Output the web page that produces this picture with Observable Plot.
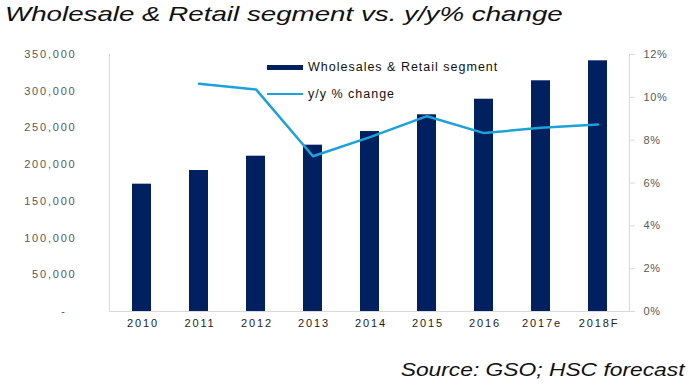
<!DOCTYPE html>
<html>
<head>
<meta charset="utf-8">
<script src="https://cdn.jsdelivr.net/npm/d3@7"></script>
<script src="https://cdn.jsdelivr.net/npm/@observablehq/plot@0.6"></script>
<style>
  html, body { margin: 0; padding: 0; background: #fff; }
  body { width: 690px; height: 385px; position: relative; overflow: hidden; font-family: "Liberation Sans", Arial, sans-serif; }
  #title { position: absolute; left: 5px; top: 2px; font-size: 21px; font-style: italic; color: #111; white-space: nowrap; transform: scaleX(1.32); transform-origin: left top; }
  #chart { position: absolute; left: 0; top: 40px; }
  #source { position: absolute; right: 5px; top: 359px; font-size: 19px; font-style: italic; color: #111; white-space: nowrap; transform: scaleX(1.2); transform-origin: right top; }
  .leg { position: absolute; font-size: 12.5px; letter-spacing: 1px; color: #111; white-space: nowrap; display: flex; align-items: center; }
  .sw { display: inline-block; width: 36px; margin-right: 5px; }
</style>
</head>
<body>
<div id="title">Wholesale &amp; Retail segment vs. y/y% change</div>
<div id="chart"></div>
<div class="leg" style="left:267px; top:60px;"><span class="sw" style="height:5px; background:#002060;"></span>Wholesales &amp; Retail segment</div>
<div class="leg" style="left:267px; top:87px;"><span class="sw" style="height:2.5px; background:#1da1d9;"></span>y/y % change</div>
<div id="source">Source: GSO; HSC forecast</div>
<script>
const years = ["2010", "2011", "2012", "2013", "2014", "2015", "2016", "2017e", "2018F"];
const segment = [173400, 192000, 211500, 226500, 245100, 267900, 289100, 314200, 341400];
const yoy = [null, 10.63, 10.37, 7.25, 8.14, 9.12, 8.33, 8.58, 8.73];
const leftTicks = [0, 50000, 100000, 150000, 200000, 250000, 300000, 350000];
const rightTicks = [0, 2, 4, 6, 8, 10, 12];

const leftMax = 350000, rightMax = 12;
const k = leftMax / rightMax;

const bars = years.map((y, i) => ({year: y, value: segment[i]}));
const line = years.map((y, i) => ({year: y, pct: yoy[i]})).filter(d => d.pct != null);

const fmt = d3.format(",");
const axisColor = "#d9d9d9";

const chart = Plot.plot({
  width: 690,
  height: 300,
  marginLeft: 109,
  marginRight: 61,
  marginTop: 14,
  marginBottom: 29,
  style: {fontFamily: "'Liberation Sans', Arial, sans-serif", background: "transparent"},
  x: {domain: years, paddingInner: 0.67, paddingOuter: 0.335},
  y: {domain: [0, leftMax]},
  marks: [
    Plot.frame({anchor: "left", stroke: axisColor}),
    Plot.frame({anchor: "right", stroke: axisColor}),
    Plot.barY(bars, {x: "year", y: "value", fill: "#002060"}),
    Plot.line(line, {x: "year", y: d => d.pct * k, stroke: "#1da1d9", strokeWidth: 2.5, curve: "linear"}),
    Plot.ruleY([0], {stroke: axisColor, strokeWidth: 1}),
    Plot.axisY({anchor: "left", ticks: leftTicks, tickSize: 0, tickPadding: 33,
      tickFormat: d => d === 0 ? "-  " : fmt(d), fontSize: 11, fill: "#595959", label: null}),
    Plot.axisY({anchor: "right", ticks: rightTicks.map(t => t * k), tickSize: 5, tickPadding: 9,
      tickFormat: d => Math.round(d / k) + "%", fontSize: 11, fill: "#595959", stroke: axisColor, label: null}),
    Plot.axisX({tickSize: 0, tickPadding: 8, dx: 1, fontSize: 11, fill: "#222", label: null})
  ]
});

const yLabelGroups = d3.select(chart).selectAll("g[aria-label='y-axis tick label']").nodes();
if (yLabelGroups[0]) d3.select(yLabelGroups[0]).style("letter-spacing", "1.8px");
if (yLabelGroups[1]) d3.select(yLabelGroups[1]).style("letter-spacing", "0.6px");
d3.select(chart).selectAll("g[aria-label='x-axis tick label']").style("letter-spacing", "1.9px");

document.getElementById("chart").appendChild(chart);
</script>
</body>
</html>
